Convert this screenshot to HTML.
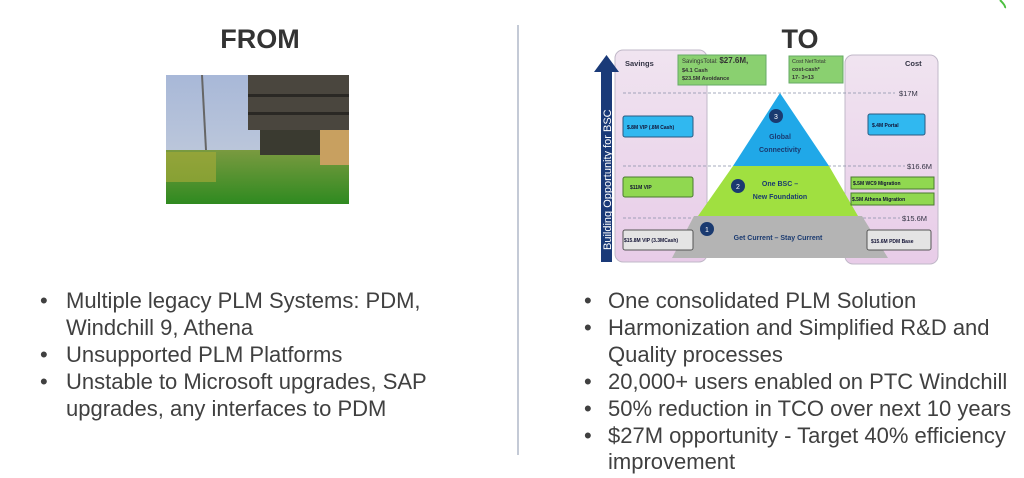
<!DOCTYPE html>
<html><head><meta charset="utf-8"><style>
html,body{margin:0;padding:0;background:#fff;width:1024px;height:478px;overflow:hidden}
svg{display:block}
.b{font-family:"Liberation Sans",Arial,sans-serif;font-size:22px;fill:#404040}
.s{font-family:"Liberation Sans",Arial,sans-serif;font-weight:bold}
</style></head><body>
<svg width="1024" height="478" viewBox="0 0 1024 478" xmlns="http://www.w3.org/2000/svg">
<defs>
<linearGradient id="sky" x1="0" y1="0" x2="0" y2="1"><stop offset="0" stop-color="#a8b8d8"/><stop offset="1" stop-color="#c8d0dc"/></linearGradient>
<linearGradient id="grass" x1="0" y1="0" x2="0" y2="1"><stop offset="0" stop-color="#7a9a40"/><stop offset="1" stop-color="#2f8a20"/></linearGradient>
<linearGradient id="pk" x1="0" y1="0" x2="0" y2="1"><stop offset="0" stop-color="#f0e4f0"/><stop offset="1" stop-color="#e8cce8"/></linearGradient>
</defs>
<path d="M1000 0 Q1006 6 1005 8" stroke="#4cc040" stroke-width="2" fill="none"/>
<text x="260" y="48" text-anchor="middle" class="s" font-size="27" fill="#333">FROM</text>
<text x="800" y="48" text-anchor="middle" class="s" font-size="27" fill="#333">TO</text>
<line x1="518" y1="25" x2="518" y2="455" stroke="#b0b8c8" stroke-width="1.5"/>
<rect x="166" y="75" width="183" height="129" fill="url(#sky)"/>
<rect x="166" y="150" width="183" height="54" fill="url(#grass)"/>
<rect x="166" y="152" width="50" height="30" fill="#a0a838" opacity="0.7"/>
<line x1="202" y1="75" x2="206" y2="150" stroke="#666" stroke-width="2"/>
<rect x="248" y="75" width="101" height="55" fill="#4a463e"/>
<rect x="248" y="94" width="101" height="3" fill="#2a2824"/>
<rect x="248" y="112" width="101" height="3" fill="#2a2824"/>
<rect x="320" y="130" width="29" height="35" fill="#c8a060"/>
<rect x="260" y="130" width="60" height="25" fill="#3a3a30"/>
<g class="b" xml:space="preserve">
<text x="40" y="308">•</text><text x="66" y="308">Multiple legacy PLM Systems:  PDM,</text>
<text x="66" y="335">Windchill 9, Athena</text>
<text x="40" y="362">•</text><text x="66" y="362">Unsupported PLM Platforms</text>
<text x="40" y="389">•</text><text x="66" y="389">Unstable to Microsoft upgrades, SAP</text>
<text x="66" y="416">upgrades, any interfaces to PDM</text>
<text x="584" y="308">•</text><text x="608" y="308">One consolidated PLM Solution</text>
<text x="584" y="335">•</text><text x="608" y="335">Harmonization and Simplified R&amp;D and</text>
<text x="608" y="362">Quality processes</text>
<text x="584" y="389">•</text><text x="608" y="389">20,000+ users enabled on PTC Windchill</text>
<text x="584" y="416">•</text><text x="608" y="416">50% reduction in TCO over next 10 years</text>
<text x="584" y="443">•</text><text x="608" y="443">$27M opportunity - Target 40% efficiency</text>
<text x="608" y="469">improvement</text>
</g>
<rect x="615" y="50" width="92" height="212" rx="8" fill="url(#pk)" stroke="#c0b8c8"/>
<rect x="845" y="55" width="93" height="209" rx="8" fill="url(#pk)" stroke="#c0b8c8"/>
<rect x="601" y="70" width="11" height="192" fill="#1a3a78"/>
<polygon points="594,72 606.5,55 619,72" fill="#1a3a78"/>
<text transform="translate(611,250) rotate(-90)" font-family="Liberation Sans,Arial,sans-serif" font-size="11" fill="#fff">Building Opportunity for BSC</text>
<text x="625" y="66" class="s" font-size="7.5" fill="#334">Savings</text>
<text x="905" y="66" class="s" font-size="7.5" fill="#334">Cost</text>
<rect x="678" y="55" width="88" height="30" fill="#8ad070" stroke="#6a6"/>
<text x="682" y="63" font-family="Liberation Sans,Arial" font-size="6" fill="#333">SavingsTotal: <tspan font-weight="bold" font-size="8">$27.6M,</tspan></text>
<text x="682" y="72" class="s" font-size="5.5" fill="#333">$4.1 Cash</text>
<text x="682" y="80" class="s" font-size="5.5" fill="#333">$23.5M Avoidance</text>
<rect x="789" y="56" width="54" height="27" fill="#8ad070" stroke="#6a6"/>
<text x="792" y="63" font-family="Liberation Sans,Arial" font-size="5.5" fill="#333">Cost NetTotal:</text>
<text x="792" y="71" class="s" font-size="5.5" fill="#333">cost-cash*</text>
<text x="792" y="79" class="s" font-size="5.5" fill="#333">17- 3=13</text>
<g stroke="#8890a8" stroke-dasharray="3,2" stroke-width="0.8">
<line x1="623" y1="93" x2="895" y2="93"/><line x1="623" y1="166" x2="905" y2="166"/><line x1="623" y1="218" x2="900" y2="218"/>
</g>
<g font-family="Liberation Sans,Arial" font-size="7.5" fill="#334">
<text x="899" y="96">$17M</text><text x="907" y="169">$16.6M</text><text x="902" y="221">$15.6M</text>
</g>
<polygon points="694,216 862,216 888,258 672,258" fill="#b4b4b4"/>
<polygon points="733,166 829,166 858,216 698,216" fill="#a0e040"/>
<polygon points="780,93 829,166 733,166" fill="#20a8e8"/>
<circle cx="776" cy="116" r="7" fill="#1a3a70"/><text x="776" y="119" text-anchor="middle" font-size="7" fill="#fff" font-family="Liberation Sans">3</text>
<circle cx="738" cy="186" r="7" fill="#1a3a70"/><text x="738" y="189" text-anchor="middle" font-size="7" fill="#fff" font-family="Liberation Sans">2</text>
<circle cx="707" cy="229" r="7" fill="#1a3a70"/><text x="707" y="232" text-anchor="middle" font-size="7" fill="#fff" font-family="Liberation Sans">1</text>
<g class="s" font-size="7" fill="#1a3a70" text-anchor="middle">
<text x="780" y="139">Global</text><text x="780" y="152">Connectivity</text>
<text x="780" y="186">One BSC –</text><text x="780" y="199">New Foundation</text>
<text x="778" y="240">Get Current – Stay Current</text>
</g>
<g class="s" font-size="5">
<rect x="623" y="116" width="70" height="21" rx="2" fill="#30b8f0" stroke="#2a5a80"/><text x="627" y="129" fill="#113">$.8M VIP (.8M Cash)</text>
<rect x="623" y="177" width="70" height="20" rx="2" fill="#90d850" stroke="#4a7a30"/><text x="630" y="189" fill="#113">$11M VIP</text>
<rect x="623" y="230" width="70" height="20" rx="2" fill="#e4e4e4" stroke="#555"/><text x="624" y="242" fill="#113">$15.8M VIP (3.3MCash)</text>
<rect x="868" y="114" width="57" height="21" rx="2" fill="#30b8f0" stroke="#2a5a80"/><text x="872" y="127" fill="#113">$.4M Portal</text>
<rect x="851" y="177" width="83" height="12" fill="#90d850" stroke="#4a7a30"/><text x="853" y="185" fill="#113">$.5M WC9 Migration</text>
<rect x="851" y="193" width="83" height="12" fill="#90d850" stroke="#4a7a30"/><text x="852" y="201" fill="#113">$.5M Athena Migration</text>
<rect x="867" y="230" width="64" height="20" rx="2" fill="#e4e4e4" stroke="#555"/><text x="871" y="243" fill="#113">$15.6M PDM Base</text>
</g>
</svg>
</body></html>
